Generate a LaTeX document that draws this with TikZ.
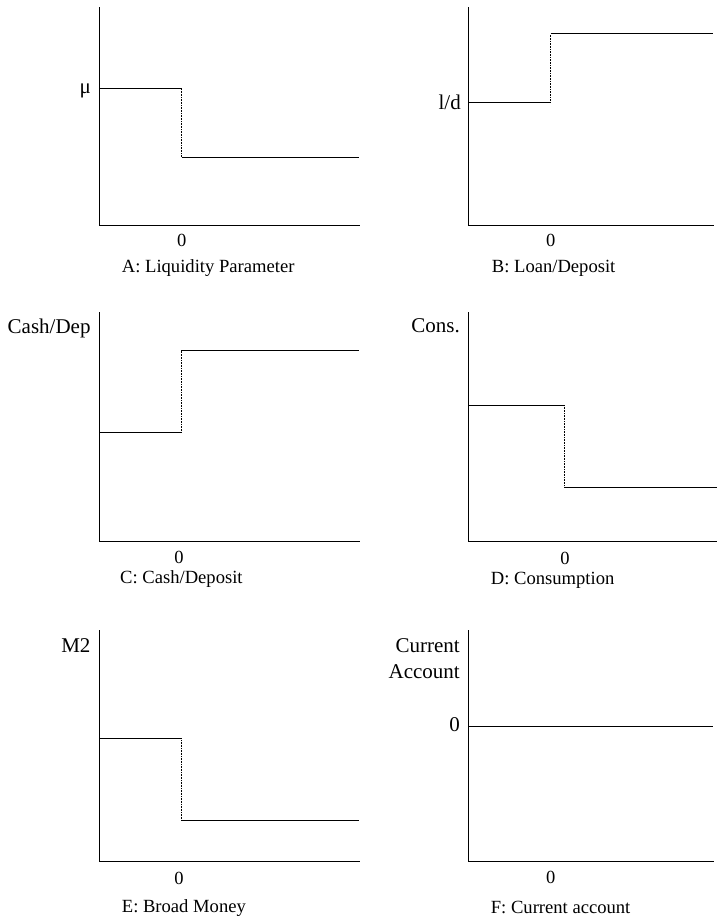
\documentclass[tikz,border=0pt]{standalone}
\usepackage{fontspec}
\setmainfont{Liberation Serif}
\tikzset{
  axis/.style={line width=1.1pt, line cap=rect},
  level/.style={line width=1.0pt},
  jump/.style={line width=0.6pt, dash pattern=on 0.8pt off 0.8pt},
  ylab/.style={anchor=base east, inner sep=0pt, font=\fontsize{21}{24}\selectfont},
  zlab/.style={anchor=base, inner sep=0pt, font=\fontsize{18.5}{21}\selectfont},
  captext/.style={anchor=base west, inner sep=0pt, font=\fontsize{18.6}{21}\selectfont}
}
\begin{document}
\begin{tikzpicture}[x=1pt, y=-1pt]
\useasboundingbox (0,0) rectangle (717,917);
% ---------- Panel A ----------
\coordinate (Atop) at (99.3,8);
\coordinate (Aor) at (99.3,225.7);
\coordinate (Aend) at (359,225.7);
\draw[axis] (Atop) -- (Aor) -- (Aend);
\coordinate (A1) at (99.3,89);
\coordinate (A2) at (181.7,89);
\coordinate (A3) at (181.7,157.3);
\coordinate (A4) at (359,157.3);
\draw[level] (A1) -- (A2);
\draw[jump] (A2) -- (A3);
\draw[level] (A3) -- (A4);
\node[ylab] (Ay) at (91,94) {μ};
\node[zlab] (A0) at (181.7,246) {0};
\node[captext] (Acap) at (121.7,272.7) {A: Liquidity Parameter};
% ---------- Panel B ----------
\coordinate (Btop) at (468.3,8);
\coordinate (Bor) at (468.3,225.7);
\coordinate (Bend) at (713,225.7);
\draw[axis] (Btop) -- (Bor) -- (Bend);
\coordinate (B1) at (468.3,102.7);
\coordinate (B2) at (550.5,102.7);
\coordinate (B3) at (550.5,34);
\coordinate (B4) at (713,34);
\draw[level] (B1) -- (B2);
\draw[jump] (B2) -- (B3);
\draw[level] (B3) -- (B4);
\node[ylab] (By) at (461,110) {l/d};
\node[zlab] (B0) at (550.7,246) {0};
\node[captext] (Bcap) at (491.7,272.7) {B: Loan/Deposit};
% ---------- Panel C ----------
\coordinate (Ctop) at (99.3,312.3);
\coordinate (Cor) at (99.3,541.7);
\coordinate (Cend) at (359,541.7);
\draw[axis] (Ctop) -- (Cor) -- (Cend);
\coordinate (C1) at (99.3,432.7);
\coordinate (C2) at (181,432.7);
\coordinate (C3) at (181,350.7);
\coordinate (C4) at (359,350.7);
\draw[level] (C1) -- (C2);
\draw[jump] (C2) -- (C3);
\draw[level] (C3) -- (C4);
\node[ylab] (Cy) at (90.7,333.3) {Cash/Dep};
\node[zlab] (C0) at (179,563.3) {0};
\node[captext] (Ccap) at (120,583.3) {C: Cash/Deposit};
% ---------- Panel D ----------
\coordinate (Dtop) at (468.3,312.3);
\coordinate (Dor) at (468.3,541.7);
\coordinate (Dend) at (716.5,541.7);
\draw[axis] (Dtop) -- (Dor) -- (Dend);
\coordinate (D1) at (468.3,405);
\coordinate (D2) at (564,405);
\coordinate (D3) at (564,487.3);
\coordinate (D4) at (716.5,487.3);
\draw[level] (D1) -- (D2);
\draw[jump] (D2) -- (D3);
\draw[level] (D3) -- (D4);
\node[ylab] (Dy) at (460,332.3) {Cons.};
\node[zlab] (D0) at (565,564) {0};
\node[captext] (Dcap) at (490.7,584.3) {D: Consumption};
% ---------- Panel E ----------
\coordinate (Etop) at (99.3,630.7);
\coordinate (Eor) at (99.3,861.7);
\coordinate (Eend) at (359,861.7);
\draw[axis] (Etop) -- (Eor) -- (Eend);
\coordinate (E1) at (99.3,738.3);
\coordinate (E2) at (181.7,738.3);
\coordinate (E3) at (181.7,820.7);
\coordinate (E4) at (359,820.7);
\draw[level] (E1) -- (E2);
\draw[jump] (E2) -- (E3);
\draw[level] (E3) -- (E4);
\node[ylab] (Ey) at (90.7,652.3) {M2};
\node[zlab] (E0) at (179,884) {0};
\node[captext] (Ecap) at (121.7,912.7) {E: Broad Money};
% ---------- Panel F ----------
\coordinate (Ftop) at (468.3,630.7);
\coordinate (For) at (468.3,861.7);
\coordinate (Fend) at (713.3,861.7);
\draw[axis] (Ftop) -- (For) -- (Fend);
\coordinate (F1) at (468.3,726);
\coordinate (F2) at (713.3,726);
\draw[level] (F1) -- (F2);
\node[ylab] (Fy1) at (460,652.3) {Current};
\node[ylab] (Fy2) at (460,678.3) {Account};
\node[ylab] (Fyz) at (460,731.7) {0};
\node[zlab] (F0) at (550.7,883.3) {0};
\node[captext] (Fcap) at (490.7,913.3) {F: Current account};
\end{tikzpicture}
\end{document}
